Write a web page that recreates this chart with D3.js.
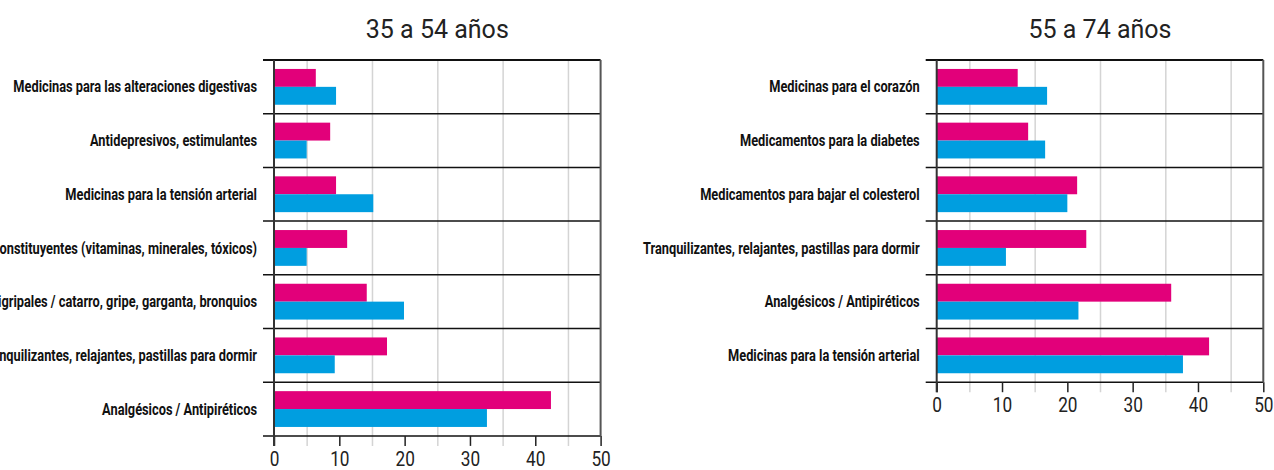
<!DOCTYPE html>
<html>
<head>
<meta charset="utf-8">
<script src="https://cdn.jsdelivr.net/npm/d3@7"></script>
<style>
  html, body { margin: 0; padding: 0; background: #fff; }
  .title { font-family: Roboto, "DejaVu Sans", sans-serif; font-size: 25px; fill: #222; }
  .cat { font-family: Roboto, "DejaVu Sans Condensed", sans-serif; font-weight: bold; font-size: 16px; fill: #111; }
  .tick text { font-family: Roboto, sans-serif; font-size: 21px; fill: #222; }
</style>
</head>
<body>
<svg id="chart" width="1274" height="470"></svg>
<script>
// 35 a 54 años
const catsA = [
  'Medicinas para las alteraciones digestivas',
  'Antidepresivos, estimulantes',
  'Medicinas para la tensión arterial',
  'Reconstituyentes (vitaminas, minerales, tóxicos)',
  'Antigripales / catarro, gripe, garganta, bronquios',
  'Tranquilizantes, relajantes, pastillas para dormir',
  'Analgésicos / Antipiréticos'
];
const mujeresA = [6.4, 8.6, 9.5, 11.2, 14.2, 17.3, 42.4];
const hombresA = [9.5, 5.0, 15.2, 5.0, 19.9, 9.3, 32.6];

// 55 a 74 años
const catsB = [
  'Medicinas para el corazón',
  'Medicamentos para la diabetes',
  'Medicamentos para bajar el colesterol',
  'Tranquilizantes, relajantes, pastillas para dormir',
  'Analgésicos / Antipiréticos',
  'Medicinas para la tensión arterial'
];
const mujeresB = [12.4, 14.0, 21.5, 22.9, 35.9, 41.7];
const hombresB = [16.9, 16.6, 20.0, 10.6, 21.7, 37.7];

const titles = ['35 a 54 años', '55 a 74 años'];
const majorTicks = [0, 10, 20, 30, 40, 50];
const minorTicks = [5, 15, 25, 35, 45];
const seriesKeys = ['mujeres', 'hombres'];
const colors = { mujeres: '#e2007a', hombres: '#009ee0' };

const svg = d3.select('#chart');
const step = 53.7;
const labelSqueeze = 0.8; // the original uses a condensed face
const tickSqueeze = 0.82;

function drawPanel(left, cats, mujeres, hombres, title) {
  const w = 326.6, h = cats.length * step, top = 60;
  const g = svg.append('g').attr('transform', `translate(${left},${top})`);

  const x = d3.scaleLinear().domain([0, 50]).range([0, w]);
  const y = d3.scaleBand().domain(cats).range([0, h]).padding(0);
  const ys = d3.scaleBand().domain(seriesKeys).range([0, y.bandwidth()]).paddingOuter(0.5).paddingInner(0);

  svg.append('text').attr('class', 'title')
    .attr('x', left + w / 2).attr('y', 38)
    .attr('text-anchor', 'middle').text(title);

  // light gridlines at the half steps
  g.append('g').attr('transform', `translate(0,${h + 10})`)
    .call(d3.axisTop(x).tickValues(minorTicks).tickSize(h + 10).tickFormat(''))
    .call(a => a.select('.domain').remove())
    .call(a => a.selectAll('line').attr('stroke', '#d4d4d4').attr('stroke-width', 1.5));

  const rows = cats.map((c, i) => ({ cat: c, mujeres: mujeres[i], hombres: hombres[i] }));
  const row = g.selectAll('.row').data(rows).enter().append('g')
    .attr('transform', d => `translate(0,${y(d.cat)})`);
  row.selectAll('rect').data(d => seriesKeys.map(k => ({ key: k, value: d[k] }))).enter().append('rect')
    .attr('x', x(0)).attr('y', d => ys(d.key))
    .attr('width', d => x(d.value) - x(0)).attr('height', ys.bandwidth())
    .attr('fill', d => colors[d.key]);

  // separators between categories
  const bounds = cats.map(c => y(c)).concat([y.range()[1]]);
  g.selectAll('.sep').data(bounds).enter().append('line')
    .attr('x1', -11).attr('x2', w).attr('y1', d => d).attr('y2', d => d)
    .attr('stroke', '#111').attr('stroke-width', (d, i) => i === 0 ? 2 : 1.5);

  // bottom axis
  g.append('g').attr('transform', `translate(0,${h})`)
    .call(d3.axisBottom(x).tickValues(majorTicks).tickSize(10).tickPadding(5))
    .call(a => a.select('.domain').remove())
    .call(a => a.selectAll('line').attr('stroke', '#222').attr('stroke-width', 1.5))
    .call(a => a.selectAll('text').attr('transform', `scale(${tickSqueeze},1)`));

  g.append('line').attr('x1', 0).attr('x2', 0).attr('y1', 0).attr('y2', h + 10)
    .attr('stroke', '#333').attr('stroke-width', 2);
  g.append('line').attr('x1', w).attr('x2', w).attr('y1', 0).attr('y2', h)
    .attr('stroke', '#555').attr('stroke-width', 2);

  g.selectAll('.cat').data(cats).enter().append('text').attr('class', 'cat')
    .attr('transform', d => `translate(-17,${y(d) + y.bandwidth() / 2}) scale(${labelSqueeze},1)`)
    .attr('dy', '0.35em').attr('text-anchor', 'end').text(d => d);
}

drawPanel(274, catsA, mujeresA, hombresA, titles[0]);
drawPanel(936.7, catsB, mujeresB, hombresB, titles[1]);
</script>
</body>
</html>
